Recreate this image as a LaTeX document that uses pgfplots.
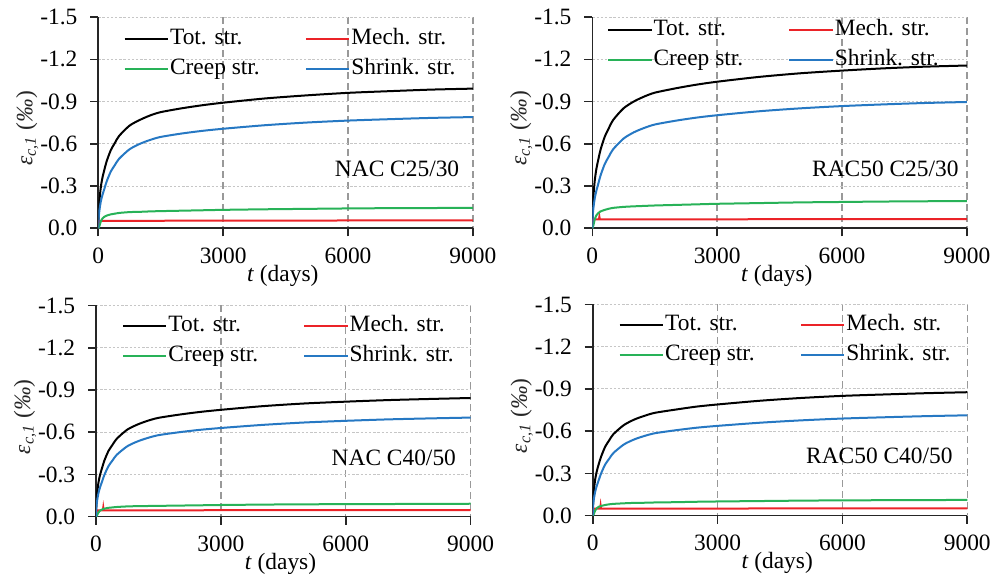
\documentclass[border=0pt]{standalone}
\usepackage{fontspec}
\setmainfont{Liberation Serif}
\usepackage{pgfplots}
\usepackage{pgfplotstable}
\pgfplotsset{compat=1.18}

\definecolor{totc}{RGB}{0,0,0}
\definecolor{mechc}{RGB}{235,35,40}
\definecolor{creepc}{RGB}{40,178,88}
\definecolor{shrc}{RGB}{38,120,195}
\newcommand\fs{\fontsize{11.7}{14}\selectfont}

% strain histories (per mille), columns: time, total, creep, shrinkage
\pgfplotstableread{
t tot creep shr
0 0 0 0
7 -0.086 -0.003 -0.063
14 -0.138 -0.007 -0.091
28 -0.200 -0.017 -0.130
60 -0.291 -0.048 -0.190
100 -0.360 -0.070 -0.237
150 -0.420 -0.083 -0.284
200 -0.475 -0.090 -0.332
300 -0.555 -0.099 -0.403
400 -0.607 -0.104 -0.450
500 -0.656 -0.109 -0.494
750 -0.729 -0.115 -0.561
1000 -0.770 -0.117 -0.600
1250 -0.802 -0.120 -0.628
1500 -0.825 -0.122 -0.649
2000 -0.852 -0.125 -0.673
2500 -0.874 -0.128 -0.692
3000 -0.892 -0.131 -0.707
4000 -0.922 -0.135 -0.732
5000 -0.944 -0.138 -0.751
6000 -0.962 -0.141 -0.765
7000 -0.974 -0.143 -0.775
8000 -0.985 -0.144 -0.784
9000 -0.992 -0.145 -0.790
}\tabNACa

\pgfplotstableread{
t tot creep shr
0 0 0 0
7 -0.101 -0.004 -0.072
14 -0.158 -0.010 -0.103
28 -0.234 -0.023 -0.148
60 -0.342 -0.064 -0.215
100 -0.425 -0.093 -0.269
150 -0.496 -0.110 -0.323
200 -0.560 -0.120 -0.377
300 -0.651 -0.131 -0.457
400 -0.713 -0.139 -0.511
500 -0.769 -0.145 -0.561
750 -0.852 -0.152 -0.637
1000 -0.901 -0.156 -0.682
1250 -0.936 -0.159 -0.713
1500 -0.963 -0.162 -0.737
2000 -0.994 -0.166 -0.764
2500 -1.020 -0.170 -0.786
3000 -1.041 -0.174 -0.803
4000 -1.075 -0.179 -0.831
5000 -1.101 -0.184 -0.852
6000 -1.120 -0.187 -0.868
7000 -1.136 -0.190 -0.880
8000 -1.148 -0.192 -0.890
9000 -1.156 -0.193 -0.897
}\tabRACa

\pgfplotstableread{
t tot creep shr
0 0 0 0
7 -0.076 -0.002 -0.056
14 -0.121 -0.005 -0.081
28 -0.172 -0.011 -0.116
60 -0.244 -0.030 -0.169
100 -0.300 -0.044 -0.211
150 -0.350 -0.052 -0.253
200 -0.398 -0.057 -0.296
300 -0.467 -0.063 -0.359
400 -0.512 -0.066 -0.401
500 -0.554 -0.069 -0.440
750 -0.618 -0.073 -0.500
1000 -0.655 -0.075 -0.535
1250 -0.682 -0.076 -0.560
1500 -0.702 -0.077 -0.579
2000 -0.725 -0.079 -0.600
2500 -0.744 -0.081 -0.617
3000 -0.759 -0.083 -0.630
4000 -0.785 -0.086 -0.652
5000 -0.804 -0.088 -0.669
6000 -0.817 -0.089 -0.681
7000 -0.828 -0.090 -0.691
8000 -0.836 -0.091 -0.698
9000 -0.843 -0.092 -0.704
}\tabNACb

\pgfplotstableread{
t tot creep shr
0 0 0 0
7 -0.079 -0.002 -0.057
14 -0.126 -0.006 -0.082
28 -0.181 -0.013 -0.118
60 -0.258 -0.037 -0.171
100 -0.318 -0.054 -0.214
150 -0.371 -0.064 -0.257
200 -0.418 -0.069 -0.299
300 -0.490 -0.076 -0.364
400 -0.537 -0.081 -0.406
500 -0.580 -0.084 -0.446
750 -0.644 -0.088 -0.506
1000 -0.683 -0.091 -0.542
1250 -0.710 -0.092 -0.567
1500 -0.731 -0.094 -0.586
2000 -0.754 -0.096 -0.607
2500 -0.775 -0.099 -0.625
3000 -0.790 -0.101 -0.638
4000 -0.816 -0.104 -0.660
5000 -0.836 -0.107 -0.677
6000 -0.851 -0.109 -0.690
7000 -0.861 -0.110 -0.699
8000 -0.870 -0.111 -0.707
9000 -0.877 -0.112 -0.713
}\tabRACb

\pgfplotsset{
  panel/.style={
    scale only axis, width=187.3pt, height=105.6pt,
    xmin=0, xmax=9000, ymin=-1.5, ymax=0, y dir=reverse,
    axis x line=bottom, axis y line=left,
    axis line style={-, line width=0.8pt, black!85},
    xtick={0,3000,6000,9000}, xticklabels={0,3000,6000,9000},
    ytick={-1.5,-1.2,-0.9,-0.6,-0.3,0},
    yticklabels={-1.5,-1.2,-0.9,-0.6,-0.3,0.0},
    tick align=outside, major tick length=4pt,
    tick style={line width=0.8pt, black!85},
    ticklabel style={font=\fs, black},
    xticklabel style={yshift=-2.1pt},
    yticklabel style={xshift=-2.9pt},
    ymajorgrids, xmajorgrids,
    y grid style={gray!45, line width=0.5pt, dash pattern=on 1.2pt off 0.9pt},
    x grid style={gray!80, line width=0.75pt, dash pattern=on 3.5pt off 2pt},
    xlabel={\textit{t} (days)},
    xlabel style={font=\fs, at={(axis description cs:0.4925,0)}, anchor=base, yshift=-26.5pt},
    ylabel={\textit{ε}\textsubscript{\textit{c,1}} (\textit{‰})},
    ylabel style={font=\fs, black!85, at={(axis description cs:-0.176,0.4726)}, anchor=base},
    legend columns=2,
    legend cell align=left,
    legend image code/.code={\draw[##1] (0pt,0pt) -- (21.7pt,0pt);},
    legend style={draw=none, fill=none, inner sep=0pt, font=\fs, anchor=north west,
      row sep=4.5pt,
      nodes={inner sep=0pt, text height=8pt, text depth=2.5pt},
      /tikz/every odd column/.append style={column sep=0.5pt},
      /tikz/every even column/.append style={column sep=22.6pt}},
  },
  every axis plot/.append style={line width=1pt},
  curve/.style={smooth, tension=0.45},
}

\begin{document}
\begin{tikzpicture}
\path[use as bounding box] (0pt,0pt) rectangle (498.5pt,-290.5pt);

% NAC C25/30
\begin{axis}[panel, at={(49.15pt,-114.15pt)}, anchor=south west,
  legend style={at={(0.0667,0.9465)}}]
\addplot[totc, curve] table[x=t,y=tot]{\tabNACa};
\addplot[mechc] coordinates {(0,0)(7,-0.02)(14,-0.04)(28,-0.053)(1000,-0.053)(2000,-0.054)(3000,-0.054)(5000,-0.055)(7000,-0.056)(9000,-0.057)};
\addplot[creepc, curve] table[x=t,y=creep]{\tabNACa};
\addplot[shrc, curve] table[x=t,y=shr]{\tabNACa};
\legend{Tot. str.,Mech. str.,Creep str.,Shrink. str.}
\node[anchor=base east, inner sep=0pt, font=\fs] at (axis cs:8680,-0.366) {NAC C25/30};
\end{axis}

% RAC50 C25/30
\begin{axis}[panel, at={(296.15pt,-114.15pt)}, anchor=south west,
  legend style={at={(0.0385,0.989)}}]
\addplot[totc, curve] table[x=t,y=tot]{\tabRACa};
\addplot[mechc] coordinates {(0,0)(7,-0.025)(14,-0.045)(28,-0.063)(160,-0.063)(170,-0.082)(180,-0.063)(1000,-0.063)(3000,-0.064)(6000,-0.065)(9000,-0.066)};
\addplot[creepc, curve] table[x=t,y=creep]{\tabRACa};
\addplot[shrc, curve] table[x=t,y=shr]{\tabRACa};
\legend{Tot. str.,Mech. str.,Creep str.,Shrink. str.}
\node[anchor=base east, inner sep=0pt, font=\fs] at (axis cs:8808,-0.37) {RAC50 C25/30};
\end{axis}

% NAC C40/50
\begin{axis}[panel, at={(48pt,-258.35pt)}, anchor=south west,
  legend style={at={(0.0685,0.9545)}}]
\addplot[totc, curve] table[x=t,y=tot]{\tabNACb};
\addplot[mechc] coordinates {(0,0)(7,-0.018)(14,-0.035)(28,-0.045)(165,-0.045)(175,-0.066)(185,-0.045)(1000,-0.045)(3000,-0.046)(9000,-0.047)};
\addplot[creepc, curve] table[x=t,y=creep]{\tabNACb};
\addplot[shrc, curve] table[x=t,y=shr]{\tabNACb};
\legend{Tot. str.,Mech. str.,Creep str.,Shrink. str.}
\node[anchor=base east, inner sep=0pt, font=\fs] at (axis cs:8657,-0.367) {NAC C40/50};
\end{axis}

% RAC50 C40/50
\begin{axis}[panel, at={(296.35pt,-257.85pt)}, anchor=south west,
  legend style={at={(0.0684,0.9545)}}]
\addplot[totc, curve] table[x=t,y=tot]{\tabRACb};
\addplot[mechc] coordinates {(0,0)(7,-0.02)(14,-0.038)(28,-0.05)(180,-0.05)(190,-0.072)(200,-0.05)(1000,-0.05)(3000,-0.051)(9000,-0.052)};
\addplot[creepc, curve] table[x=t,y=creep]{\tabRACb};
\addplot[shrc, curve] table[x=t,y=shr]{\tabRACb};
\legend{Tot. str.,Mech. str.,Creep str.,Shrink. str.}
\node[anchor=base east, inner sep=0pt, font=\fs] at (axis cs:8654,-0.368) {RAC50 C40/50};
\end{axis}
\end{tikzpicture}
\end{document}
